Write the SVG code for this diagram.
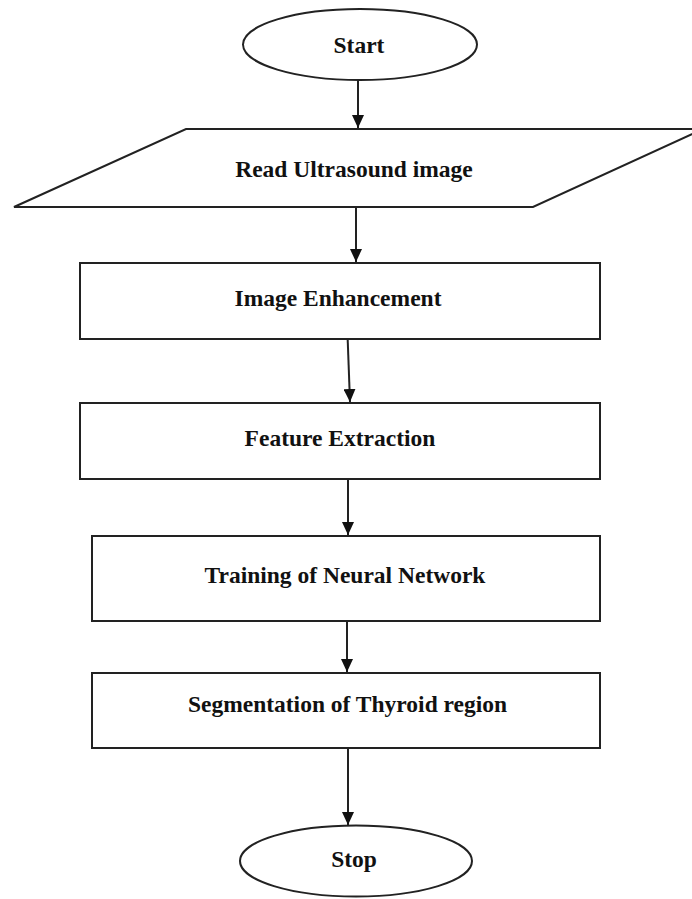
<svg xmlns="http://www.w3.org/2000/svg" width="692" height="899" viewBox="0 0 692 899">
<defs>
<marker id="ah" markerWidth="13" markerHeight="12" refX="13" refY="6" orient="auto" markerUnits="userSpaceOnUse" viewBox="0 0 13 12">
<path d="M0,0 L13,6 L0,12 Z" fill="#111"/>
</marker>
<style>
.shape{fill:#fff;stroke:#222;stroke-width:2}
.lbl{font-family:"Liberation Serif","Times New Roman",serif;font-weight:bold;font-size:23.5px;fill:#111;text-anchor:middle}
.conn line{stroke:#222;stroke-width:2}
</style>
</defs>
<rect width="692" height="899" fill="#fff"/>
<g id="start">
<ellipse class="shape" cx="360" cy="44.5" rx="117" ry="35.5"/>
<text class="lbl" x="359" y="53">Start</text>
</g>
<g id="read">
<polygon class="shape" points="186,129 703,129 533,207 14,207"/>
<text class="lbl" x="354" y="177">Read Ultrasound image</text>
</g>
<g id="enhance">
<rect class="shape" x="80" y="263" width="520" height="76"/>
<text class="lbl" x="338" y="306">Image Enhancement</text>
</g>
<g id="feature">
<rect class="shape" x="80" y="403" width="520" height="76"/>
<text class="lbl" x="340" y="446">Feature Extraction</text>
</g>
<g id="training">
<rect class="shape" x="92" y="536" width="508" height="85"/>
<text class="lbl" x="345" y="583">Training of Neural Network</text>
</g>
<g id="segmentation">
<rect class="shape" x="92" y="673" width="508" height="75"/>
<text class="lbl" x="347.5" y="712">Segmentation of Thyroid region</text>
</g>
<g id="stop">
<ellipse class="shape" cx="356" cy="861" rx="116" ry="35.5"/>
<text class="lbl" x="354" y="867">Stop</text>
</g>
<g id="connectors" class="conn">
<line x1="358" y1="80" x2="358" y2="128" marker-end="url(#ah)"/>
<line x1="356" y1="208" x2="356" y2="262" marker-end="url(#ah)"/>
<line x1="347.7" y1="340" x2="350" y2="402" marker-end="url(#ah)"/>
<line x1="348" y1="480" x2="348" y2="535" marker-end="url(#ah)"/>
<line x1="347" y1="622" x2="347" y2="672" marker-end="url(#ah)"/>
<line x1="348" y1="749" x2="348" y2="825" marker-end="url(#ah)"/>
</g>
</svg>
